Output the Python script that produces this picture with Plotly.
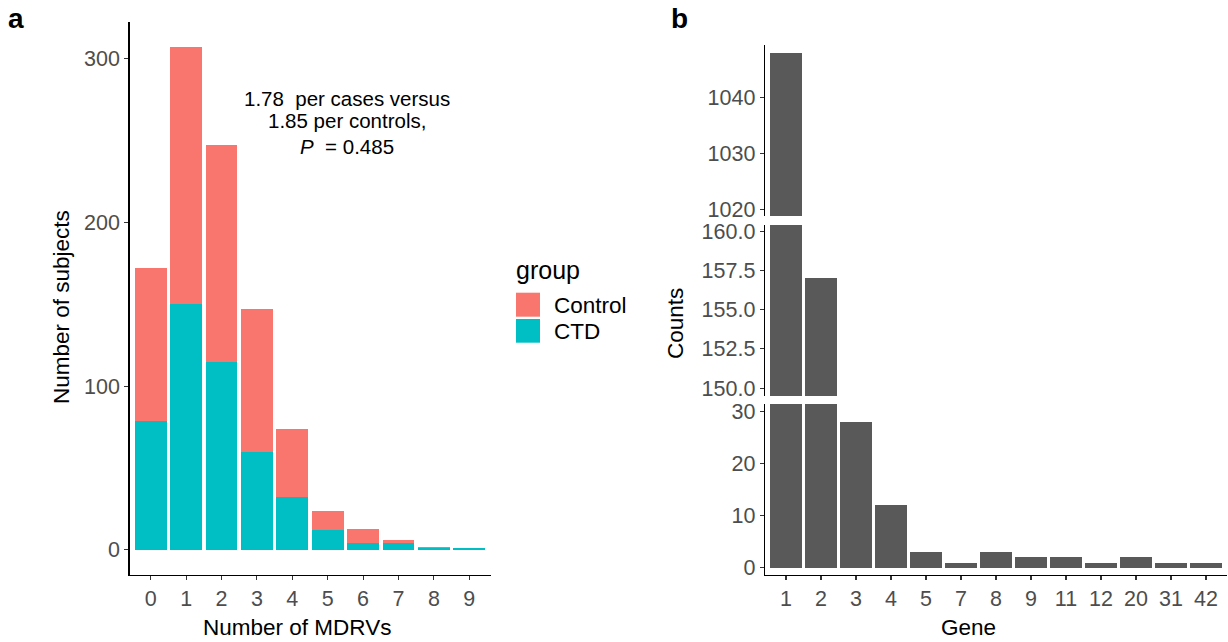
import plotly.graph_objects as go

# ---- data ----
mdrv = [0, 1, 2, 3, 4, 5, 6, 7, 8, 9]
ctd = [79, 150, 115, 60, 32, 12, 4, 4, 1, 1]
control = [93, 157, 132, 87, 42, 12, 9, 2, 1, 0]

genes = ["1", "2", "3", "4", "5", "7", "8", "9", "11", "12", "20", "31", "42"]
gene_counts = [1048, 157, 28, 12, 3, 1, 3, 2, 2, 1, 2, 1, 1]

W, H = 1228, 642
FONT = "Liberation Sans, Arial, Helvetica, sans-serif"
GREY = "#4D4D4D"


def px(x):
    return x / W


def py(y):
    return 1 - y / H


fig = go.Figure()
fig.add_trace(go.Bar(x=mdrv, y=ctd, name="CTD", marker=dict(color="#00BFC4", line=dict(width=0)),
                     xaxis="x", yaxis="y", showlegend=False))
fig.add_trace(go.Bar(x=mdrv, y=control, name="Control", marker=dict(color="#F8766D", line=dict(width=0)),
                     xaxis="x", yaxis="y", showlegend=False))
for ya in ["y2", "y3", "y4"]:
    fig.add_trace(go.Bar(x=genes, y=gene_counts, marker=dict(color="#595959", line=dict(width=0)),
                         xaxis="x2", yaxis=ya, showlegend=False))

axis_common = dict(showline=True, linecolor="black", linewidth=1.3, ticks="outside", ticklen=4,
                   tickwidth=1.1, tickcolor="#333333", showgrid=False, zeroline=False,
                   automargin=False, fixedrange=True,
                   tickfont=dict(family=FONT, size=21.5, color=GREY))

fig.update_layout(
    template="none",
    width=W, height=H, margin=dict(l=0, r=0, t=0, b=0, pad=0, autoexpand=False),
    paper_bgcolor="white", plot_bgcolor="white",
    barmode="stack", bargap=0.1, hovermode=False,
    font=dict(family=FONT),
    xaxis=dict(domain=[px(129.5), px(490.5)], anchor="y", range=[-0.6, 9.6],
               tickvals=mdrv, **axis_common),
    yaxis=dict(domain=[py(575), py(22)], anchor="x", range=[-15.35, 322.35],
               tickvals=[0, 100, 200, 300], **axis_common),
    xaxis2=dict(domain=[px(765), px(1227)], anchor="y2", type="category",
                categoryorder="array", categoryarray=genes, range=[-0.6, 12.6], **axis_common),
    yaxis2=dict(domain=[py(575), py(404)], anchor="x2", range=[-1.4, 31.5],
                tickvals=[0, 10, 20, 30], **axis_common),
    yaxis3=dict(domain=[py(396), py(225)], anchor="x2", range=[149.5, 160.4],
                tickvals=[150, 152.5, 155, 157.5, 160], tickformat=".1f", **axis_common),
    yaxis4=dict(domain=[py(216), py(45)], anchor="x2", range=[1018.8, 1049.4],
                tickvals=[1020, 1030, 1040], **axis_common),
)

ann = []


def text(x, y, s, size, color="black", xanchor="center", angle=0, bold=False):
    ann.append(dict(x=px(x), y=py(y), xref="paper", yref="paper", text=("<b>%s</b>" % s) if bold else s,
                    showarrow=False, xanchor=xanchor, yanchor="middle", textangle=angle,
                    font=dict(family=FONT, size=size, color=color)))


text(297, 627, "Number of MDRVs", 22.5)
text(968, 627, "Gene", 22.5)
text(61, 307, "Number of subjects", 22.5, angle=-90)
text(676, 324, "Counts", 22.5, angle=-90)
text(6, 18, "a", 28, xanchor="left", bold=True)
text(669, 18, "b", 28, xanchor="left", bold=True)
text(347, 98, "1.78\u00a0 per cases versus", 20.5)
text(347, 121, "1.85 per controls,", 20.5)
text(347, 147, "<i>P</i>\u00a0 = 0.485", 20.5)
# legend
text(514, 270, "group", 25, xanchor="left")
text(552, 306, "Control", 22.5, xanchor="left")
text(552, 332, "CTD", 22.5, xanchor="left")

shapes = [
    dict(type="rect", xref="paper", yref="paper", x0=px(516), x1=px(540), y0=py(316.7), y1=py(292.7),
         fillcolor="#F8766D", line=dict(width=0)),
    dict(type="rect", xref="paper", yref="paper", x0=px(516), x1=px(540), y0=py(342.7), y1=py(319),
         fillcolor="#00BFC4", line=dict(width=0)),
]
fig.update_layout(annotations=ann, shapes=shapes)

fig.write_html("out.html", config={"displayModeBar": False, "staticPlot": True},
               post_script="document.body.style.margin='0';document.body.style.padding='0';"
                           "document.body.style.overflow='hidden';")
